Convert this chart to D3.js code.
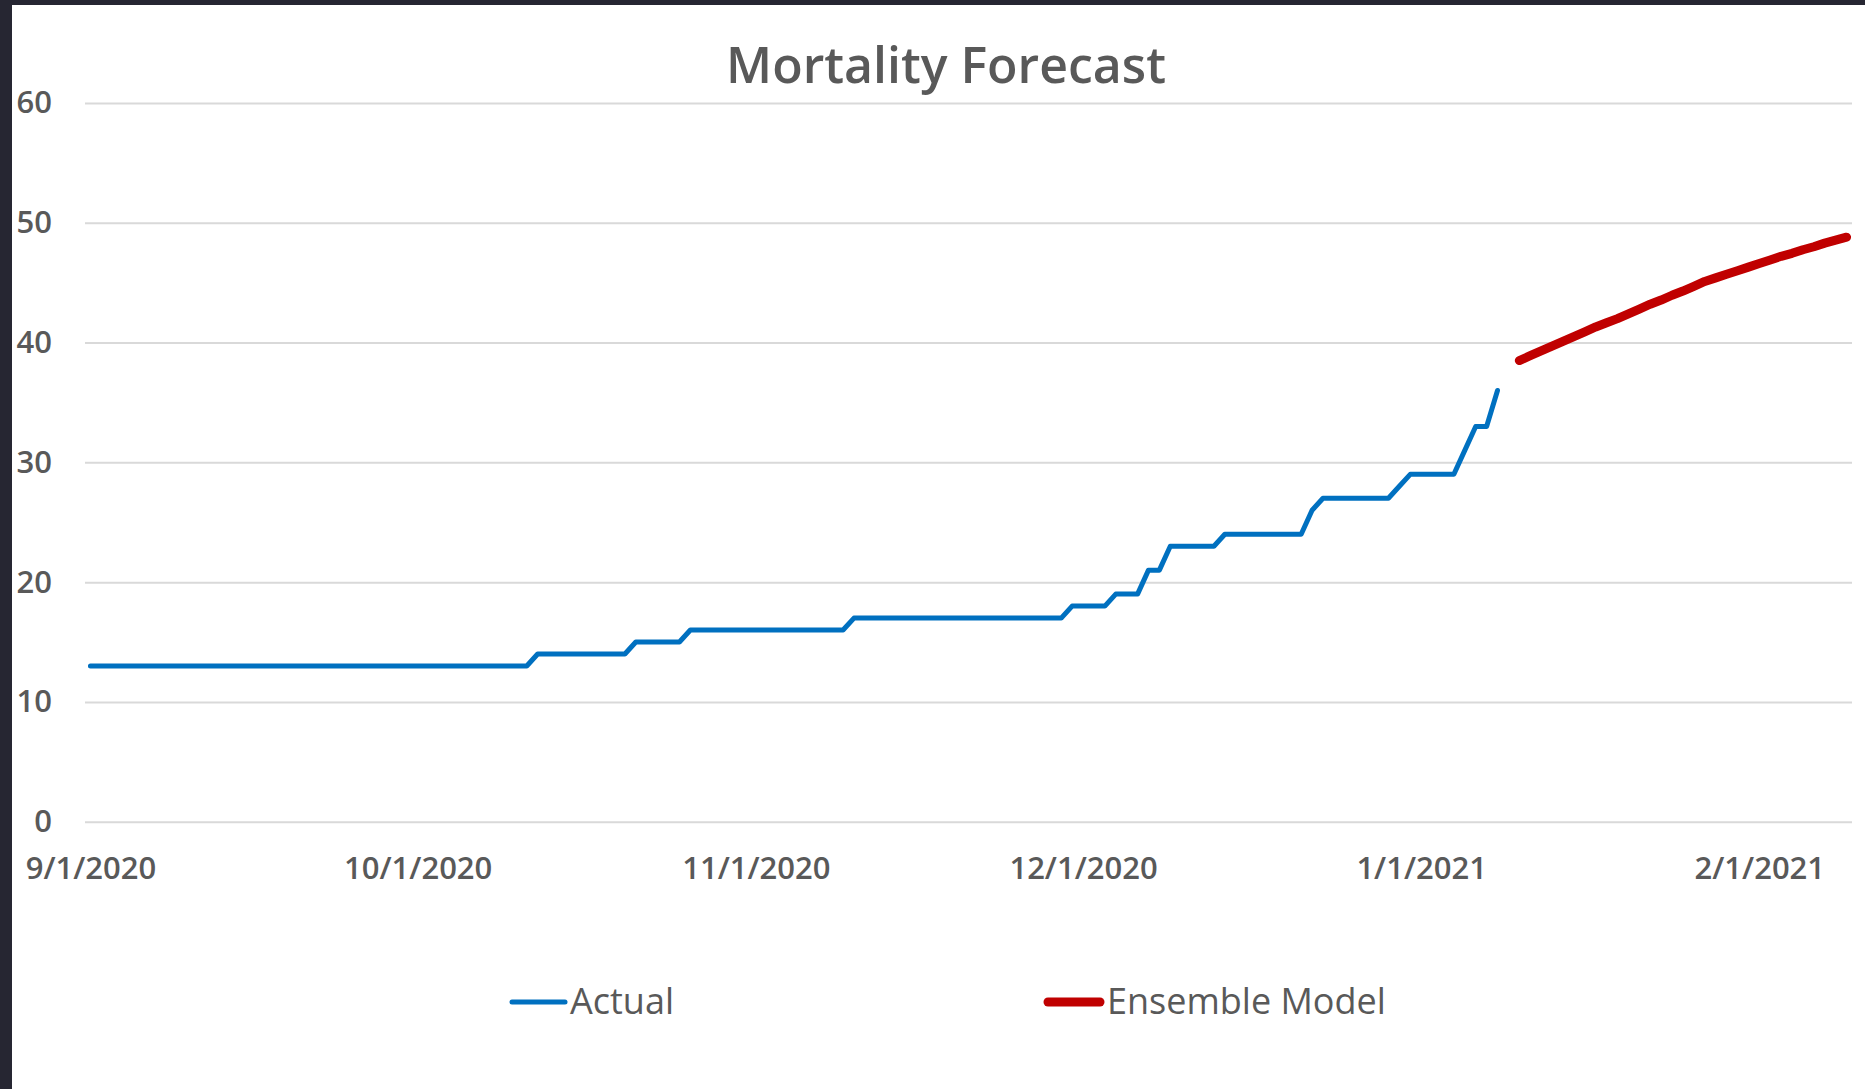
<!DOCTYPE html>
<html>
<head>
<meta charset="utf-8">
<script src="https://d3js.org/d3.v7.min.js"></script>
<style>
    body { margin: 0; background: #262632; }
    svg { display: block; }
    text { font-family: "Open Sans", "Noto Sans", sans-serif; fill: #595959; }
</style>
</head>
<body>
<svg id="chart" width="1865" height="1089"></svg>
<script>
// daily deaths, actual counts from 9/1/2020
var actual_start = Date.UTC(2020, 8, 1);
var actual_values = [
    13, 13, 13, 13, 13, 13, 13, 13, 13, 13, 13, 13, 13, 13, 13, 13, 13, 13, 13, 13,
    13, 13, 13, 13, 13, 13, 13, 13, 13, 13, 13, 13, 13, 13, 13, 13, 13, 13, 13, 13,
    13, 14, 14, 14, 14, 14, 14, 14, 14, 14, 15, 15, 15, 15, 15, 16, 16, 16, 16, 16,
    16, 16, 16, 16, 16, 16, 16, 16, 16, 16, 17, 17, 17, 17, 17, 17, 17, 17, 17, 17,
    17, 17, 17, 17, 17, 17, 17, 17, 17, 17, 18, 18, 18, 18, 19, 19, 19, 21, 21, 23,
    23, 23, 23, 23, 24, 24, 24, 24, 24, 24, 24, 24, 26, 27, 27, 27, 27, 27, 27, 27,
    28, 29, 29, 29, 29, 29, 31, 33, 33, 36
];

// ensemble model forecast from 1/10/2021
var model_start = Date.UTC(2021, 0, 10);
var model_values = [
    38.5, 38.9, 39.3, 39.7, 40.1, 40.5, 40.9, 41.3, 41.65, 42.0,
    42.4, 42.8, 43.2, 43.55, 43.95, 44.3, 44.7, 45.1, 45.4, 45.7,
    46.0, 46.3, 46.6, 46.9, 47.2, 47.45, 47.75, 48.0, 48.3, 48.55, 48.8
];

var y_ticks = [0, 10, 20, 30, 40, 50, 60];
var x_ticks = ["2020-09-01", "2020-10-01", "2020-11-01", "2020-12-01", "2021-01-01", "2021-02-01"];
var series_names = ["Actual", "Ensemble Model"];
var series_colors = ["#0070C0", "#C00000"];

var DAY = 86400000;

function to_points(start, values) {
    return values.map(function (v, i) { return { date: new Date(start + i * DAY), value: v }; });
}
var actual_data = to_points(actual_start, actual_values);
var model_data = to_points(model_start, model_values);

var svg = d3.select("#chart");

// white chart area
svg.append("rect")
    .attr("x", 12).attr("y", 5)
    .attr("width", 1865 - 12).attr("height", 1089 - 5)
    .attr("fill", "#ffffff");

var plot_left = 85, plot_right = 1852, plot_top = 103, plot_bottom = 821.7;

var x = d3.scaleUtc()
    .domain([new Date(Date.UTC(2020, 7, 31, 12)), new Date(Date.UTC(2021, 1, 9, 12))])
    .range([plot_left, plot_right]);

var y = d3.scaleLinear()
    .domain([0, 60])
    .range([plot_bottom, plot_top]);

// y axis with gridlines
var y_axis = svg.append("g")
    .attr("transform", "translate(" + plot_left + ",0)")
    .call(d3.axisLeft(y).tickValues(y_ticks).tickSize(-(plot_right - plot_left)).tickPadding(33));
y_axis.select(".domain").remove();
y_axis.selectAll(".tick line").attr("stroke", "#D9D9D9").attr("stroke-width", 2);
y_axis.selectAll(".tick text")
    .style("font-size", "31px").style("font-weight", 600).attr("fill", "#595959");

// x axis, month labels
var x_axis = svg.append("g")
    .attr("transform", "translate(0," + plot_bottom + ")")
    .call(d3.axisBottom(x)
        .tickValues(x_ticks.map(function (d) { return new Date(d + "T00:00:00Z"); }))
        .tickFormat(d3.utcFormat("%-m/%-d/%Y"))
        .tickSize(0).tickPadding(35));
x_axis.select(".domain").remove();
x_axis.selectAll(".tick text")
    .style("font-size", "31px").style("font-weight", 600).attr("fill", "#595959");

var lineFunction = d3.line()
    .x(function (d) { return x(d.date); })
    .y(function (d) { return y(d.value); });

svg.append("path")
    .datum(actual_data)
    .attr("d", lineFunction)
    .attr("fill", "none")
    .attr("stroke", series_colors[0])
    .attr("stroke-width", 5)
    .attr("stroke-linejoin", "round")
    .attr("stroke-linecap", "round");

svg.append("path")
    .datum(model_data)
    .attr("d", lineFunction)
    .attr("fill", "none")
    .attr("stroke", series_colors[1])
    .attr("stroke-width", 9)
    .attr("stroke-linejoin", "round")
    .attr("stroke-linecap", "round");

// title
svg.append("text")
    .attr("x", 946)
    .attr("y", 83)
    .attr("text-anchor", "middle")
    .style("font-size", "50px")
    .style("font-weight", 600)
    .text("Mortality Forecast");

// legend
var legend_items = [
    { name: series_names[0], color: series_colors[0], width: 5, x0: 512, x1: 565, tx: 570 },
    { name: series_names[1], color: series_colors[1], width: 9, x0: 1048, x1: 1100, tx: 1107 }
];
var legend = svg.append("g").selectAll("g").data(legend_items).enter().append("g");
legend.append("line")
    .attr("x1", function (d) { return d.x0; })
    .attr("x2", function (d) { return d.x1; })
    .attr("y1", 1002).attr("y2", 1002)
    .attr("stroke", function (d) { return d.color; })
    .attr("stroke-width", function (d) { return d.width; })
    .attr("stroke-linecap", "round");
legend.append("text")
    .attr("x", function (d) { return d.tx; })
    .attr("y", 1014)
    .style("font-size", "36px")
    .text(function (d) { return d.name; });
</script>
</body>
</html>
